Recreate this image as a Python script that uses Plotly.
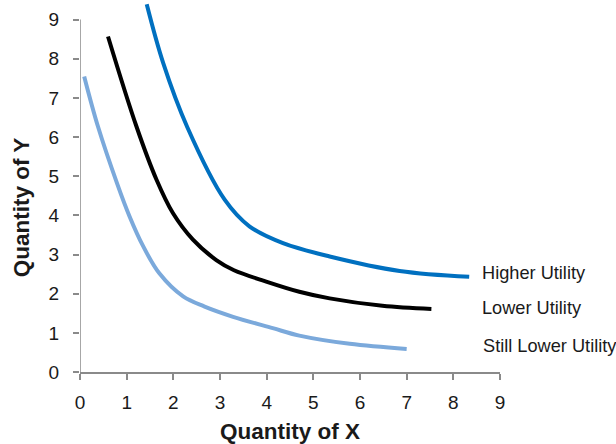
import plotly.graph_objects as go

# Indifference curves
high_x = [1.43, 1.78, 2.30, 3.10, 3.63, 4.35, 5.35, 6.85, 8.34]
high_y = [9.39, 7.90, 6.25, 4.40, 3.72, 3.29, 2.95, 2.58, 2.43]

low_x = [0.60, 1.21, 1.64, 1.99, 2.42, 2.92, 3.30, 3.99, 4.70, 5.35, 6.48, 7.53]
low_y = [8.57, 6.27, 4.91, 4.06, 3.38, 2.86, 2.60, 2.31, 2.05, 1.88, 1.69, 1.61]

still_x = [0.09, 0.385, 0.80, 1.06, 1.35, 1.70, 2.21, 2.67, 3.28, 4.13, 4.70, 5.78, 7.00]
still_y = [7.55, 6.27, 4.80, 3.98, 3.22, 2.52, 1.93, 1.67, 1.41, 1.12, 0.93, 0.72, 0.59]

labels = ["Higher Utility", "Lower Utility", "Still Lower Utility"]
label_x = [8.58, 8.58, 8.6]
label_y = [2.53, 1.64, 0.66]

tick_vals = list(range(0, 10))

FONT = "Liberation Sans, Arial, sans-serif"
AXIS_GRAY = "#8a8a8a"
TEXT = "#1a1a1a"

fig = go.Figure()
series = [
    (high_x, high_y, "#0070C0"),
    (low_x, low_y, "#000000"),
    (still_x, still_y, "#7BA9DB"),
]
for xs, ys, col in series:
    fig.add_trace(go.Scatter(x=xs, y=ys, mode="lines",
                             line=dict(color=col, width=4, shape="spline", smoothing=1.0),
                             showlegend=False, hoverinfo="skip"))

for t, lx, ly in zip(labels, label_x, label_y):
    fig.add_annotation(x=lx, y=ly, xref="x", yref="y", text=t, showarrow=False,
                       xanchor="left", yanchor="middle",
                       font=dict(family=FONT, size=18.2, color=TEXT))

# axis titles
fig.add_annotation(x=0.5, y=0, xref="paper", yref="paper", yshift=-59,
                   text="<b>Quantity of X</b>", showarrow=False,
                   xanchor="center", yanchor="middle",
                   font=dict(family=FONT, size=22.5, color=TEXT))
fig.add_annotation(x=0, y=0.445, xref="paper", yref="paper", xshift=-59,
                   text="<b>Quantity of Y</b>", showarrow=False, textangle=-90,
                   xanchor="center", yanchor="middle",
                   font=dict(family=FONT, size=22.5, color=TEXT))

# y axis line only from 0 to 9
fig.add_shape(type="line", xref="x", yref="y", x0=0, x1=0, y0=0, y1=9,
              line=dict(color=AXIS_GRAY, width=1.5))

fig.update_xaxes(range=[0, 9], tickvals=tick_vals, showgrid=False, zeroline=False,
                 showline=True, linecolor=AXIS_GRAY, linewidth=1.5,
                 ticks="outside", ticklen=6, tickcolor=AXIS_GRAY, tickwidth=1.5,
                 ticklabelstandoff=6,
                 tickfont=dict(family=FONT, size=19, color=TEXT))
fig.update_yaxes(range=[0, 9.45], tickvals=tick_vals, showgrid=False, zeroline=False,
                 showline=False,
                 ticks="outside", ticklen=6, tickcolor=AXIS_GRAY, tickwidth=1.5,
                 ticklabelstandoff=10,
                 tickfont=dict(family=FONT, size=19, color=TEXT))

fig.update_layout(width=616, height=444,
                  margin=dict(l=80, r=116, t=2, b=72),
                  plot_bgcolor="white", paper_bgcolor="white")

fig.write_html("out.html", config={"displayModeBar": False},
               post_script="document.body.style.margin='0';document.body.style.padding='0';")
